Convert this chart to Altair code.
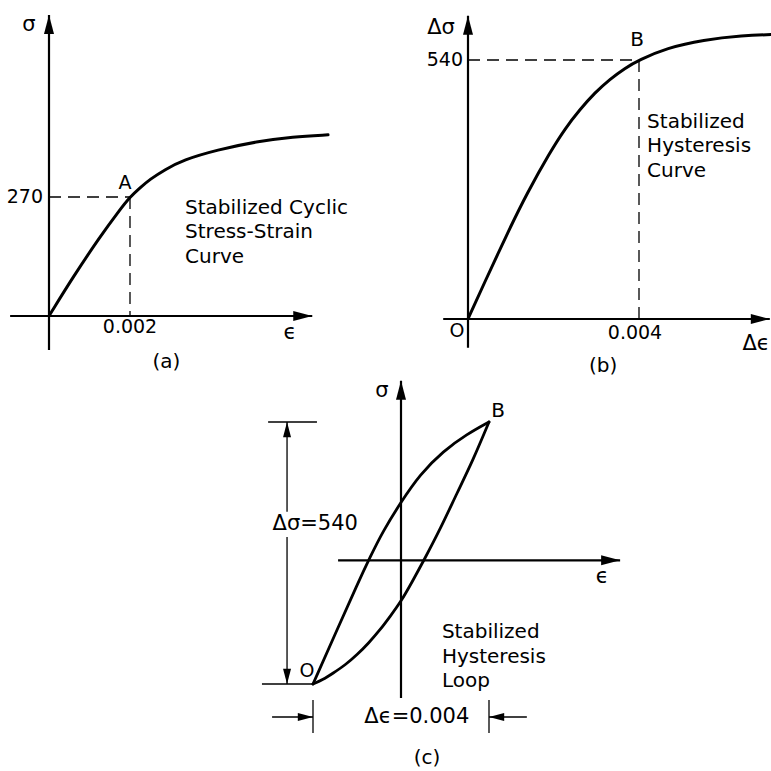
import altair as alt
import pandas as pd

FONT = "DejaVu Sans"

# ---- (a) stabilized cyclic stress-strain curve: strain, stress (MPa)
a_strain = [0, 0.00059, 0.00126, 0.00175, 0.002, 0.00225, 0.00249, 0.00286, 0.00331,
            0.00415, 0.00514, 0.00602, 0.00689]
a_stress = [0, 88, 180, 241, 270, 291, 310, 332, 354, 377, 396, 407, 411]
a_point = (0.002, 270)          # point A

# ---- (b) stabilized hysteresis curve: strain range, stress range (MPa)
b_strain = [0, 0.00035, 0.00098, 0.00138, 0.00192, 0.00227, 0.00262, 0.00297, 0.00332,
            0.00367, 0.004, 0.00465, 0.0055, 0.00644, 0.00709]
b_stress = [0, 69, 190, 262, 348, 397, 437, 472, 500, 523, 540, 565, 582, 591, 593]
b_point = (0.004, 540)          # point B

# ---- (c) stabilized hysteresis loop, upper (unloading) and lower (loading) branch
upper_strain = [-0.002, -0.00149, -0.00098, -0.0007, -0.00041, 0, 0.00043, 0.00096, 0.0015, 0.002]
upper_stress = [-255, -151, -47, 7, 60, 120, 177, 225, 260, 285]
lower_strain = [-0.002, -0.00177, -0.00155, -0.00127, -0.001, -0.00073, -0.00048, -0.00025,
                0, 0.00025, 0.00052, 0.00089, 0.00127, 0.00164, 0.002]
lower_stress = [-255, -246, -233, -216, -195, -170, -144, -116, -85, -45, 0, 64, 138, 207, 285]
loop_tip_O = (-0.002, -255)
loop_tip_B = (0.002, 285)

# Panel placement: each panel maps its own data units onto part of the page
PANELS = {
    "a": dict(x=([0, 0.002], [49, 130]), y=([0, 270], [316, 197])),
    "b": dict(x=([0, 0.004], [468, 639]), y=([0, 540], [319, 60])),
    "c": dict(x=([-0.002, 0.002], [313, 489]), y=([-255, 285], [684, 422])),
}

# Axis extents in each panel's data units: (x from, x to), (y from, y to)
AXES = {
    "a": ((-0.00096, 0.0065), (-77, 683)),
    "b": ((-0.00058, 0.00706), (-60, 632)),
    "c": ((-0.00143, 0.00498), (-284, 370)),
}

ARROW_UP = "M0,0L0.5,1.9L-0.5,1.9Z"
ARROW_DOWN = "M0,0L0.5,-1.9L-0.5,-1.9Z"
ARROW_RIGHT = "M0,0L-1.9,0.5L-1.9,-0.5Z"
ARROW_LEFT = "M0,0L1.9,0.5L1.9,-0.5Z"


def scales(panel):
    p = PANELS[panel]
    sx = alt.Scale(domain=p["x"][0], range=p["x"][1], nice=False, zero=False)
    sy = alt.Scale(domain=p["y"][0], range=p["y"][1], nice=False, zero=False)
    return sx, sy


def segments(panel, rows, width, dash=None):
    df = pd.DataFrame(rows, columns=["x", "y", "x2", "y2"])
    sx, sy = scales(panel)
    props = dict(color="black", strokeWidth=width, strokeCap="butt")
    if dash:
        props["strokeDash"] = dash
    return alt.Chart(df).mark_rule(**props).encode(
        x=alt.X("x:Q", scale=sx, axis=None),
        y=alt.Y("y:Q", scale=sy, axis=None),
        x2="x2:Q",
        y2="y2:Q",
    )


def curve(panel, xs, ys, width=3):
    df = pd.DataFrame({"x": xs, "y": ys})
    sx, sy = scales(panel)
    return alt.Chart(df).mark_line(
        color="black", strokeWidth=width, interpolate="basis", strokeCap="round"
    ).encode(
        x=alt.X("x:Q", scale=sx, axis=None),
        y=alt.Y("y:Q", scale=sy, axis=None),
    )


def arrows(panel, pts, shape, size=400):
    df = pd.DataFrame(pts, columns=["x", "y"])
    sx, sy = scales(panel)
    return alt.Chart(df).mark_point(
        shape=shape, size=size, filled=True, color="black", opacity=1, strokeWidth=0
    ).encode(
        x=alt.X("x:Q", scale=sx, axis=None),
        y=alt.Y("y:Q", scale=sy, axis=None),
    )


def label(panel, x, y, text, size=19, align="center", dx=0, dy=0, line_height=None):
    df = pd.DataFrame({"x": [x], "y": [y], "t": [text]})
    sx, sy = scales(panel)
    props = dict(font=FONT, fontSize=size, align=align, baseline="middle",
                 dx=dx, dy=dy, color="black", lineBreak="\n")
    if line_height:
        props["lineHeight"] = line_height
    return alt.Chart(df).mark_text(**props).encode(
        x=alt.X("x:Q", scale=sx, axis=None),
        y=alt.Y("y:Q", scale=sy, axis=None),
        text="t:N",
    )


def axes(panel):
    (x0, x1), (y0, y1) = AXES[panel]
    return [
        segments(panel, [(x0, 0, x1, 0), (0, y0, 0, y1)], 2.2),
        arrows(panel, [(0, y1)], ARROW_UP),
        arrows(panel, [(x1, 0)], ARROW_RIGHT),
    ]


layers = []

# ---------------- panel (a)
ax, ay = a_point
layers += axes("a")
layers.append(segments("a", [(0, ay, ax, ay), (ax, ay, ax, 0)], 1.3, dash=[12, 7]))
layers.append(curve("a", a_strain, a_stress))
layers += [
    label("a", 0, AXES["a"][1][1], "σ", size=21, dx=-20, dy=10),
    label("a", 0, ay, f"{ay}", size=19, align="right", dx=-6),
    label("a", ax, ay, "A", size=19, dx=-5, dy=-14),
    label("a", ax, 0, f"{ax}", size=19, dy=11),
    label("a", 0.00595, 0, "ϵ", size=21, dy=17),
    label("a", 0.0029, 0, "(a)", size=20, dy=46),
    label("a", 0.00336, 246, "Stabilized Cyclic\nStress-Strain\nCurve",
          size=20, align="left", line_height=24.5),
]

# ---------------- panel (b)
bx, by = b_point
layers += axes("b")
layers.append(segments("b", [(0, by, bx, by), (bx, by, bx, 0)], 1.3, dash=[12, 7]))
layers.append(curve("b", b_strain, b_stress))
layers += [
    label("b", 0, AXES["b"][1][1], "Δσ", size=21, dx=-27, dy=12),
    label("b", 0, by, f"{by}", size=19, align="right", dx=-5),
    label("b", bx, by, "B", size=20, dx=-2, dy=-20),
    label("b", 0, 0, "O", size=19, dx=-11, dy=12),
    label("b", bx, 0, f"{bx}", size=19, dx=-4, dy=14),
    label("b", 0.00674, 0, "Δϵ", size=21, dy=25),
    label("b", 0.00316, 0, "(b)", size=20, dy=47),
    label("b", 0.00419, 411, "Stabilized\nHysteresis\nCurve",
          size=20, align="left", line_height=24.5),
]

# ---------------- panel (c)
ox, oy = loop_tip_O
tx, ty = loop_tip_B
dim_x = -0.00259        # vertical dimension line for the stress range
dim_y = -323            # horizontal dimension arrows for the strain range
layers += axes("c")
layers.append(curve("c", upper_strain, upper_stress, width=2.8))
layers.append(curve("c", lower_strain, lower_stress, width=2.8))
layers.append(segments("c", [
    (dim_x, ty, dim_x, 100), (dim_x, 48, dim_x, oy),              # stress-range line, broken for its label
    (-0.00302, ty, -0.00191, ty), (-0.00316, oy, ox, oy),          # extension lines
    (ox, -288, ox, -356), (tx, -288, tx, -356),                    # strain-range extension ticks
    (-0.00293, dim_y, ox, dim_y), (0.00286, dim_y, tx, dim_y),     # strain-range arrows
], 1.3))
layers += [
    arrows("c", [(dim_x, ty)], ARROW_UP, size=256),
    arrows("c", [(dim_x, oy)], ARROW_DOWN, size=256),
    arrows("c", [(ox, dim_y)], ARROW_RIGHT, size=256),
    arrows("c", [(tx, dim_y)], ARROW_LEFT, size=256),
]
layers += [
    label("c", 0, AXES["c"][1][1], "σ", size=21, dx=-19, dy=10),
    label("c", tx, ty, "B", size=20, dx=9, dy=-11),
    label("c", ox, oy, "O", size=19, dx=-6, dy=-13),
    label("c", AXES["c"][0][1], 0, "ϵ", size=21, dx=-18, dy=17),
    label("c", -0.00195, 75, f"Δσ={ty - oy}", size=21),
    label("c", 0.00036, dim_y, f"Δϵ={tx - ox:.3f}", size=21),
    label("c", 0.00059, -407, "(c)", size=20),
    label("c", 0.00093, -148, "Stabilized\nHysteresis\nLoop",
          size=20, align="left", line_height=24.5),
]

chart = (
    alt.layer(*layers)
    .resolve_scale(x="independent", y="independent")
    .properties(width=771, height=771, padding=0, autosize="none", background="white")
    .configure_view(stroke=None)
)

chart.save("out.html", embed_options={"renderer": "svg", "actions": False})
